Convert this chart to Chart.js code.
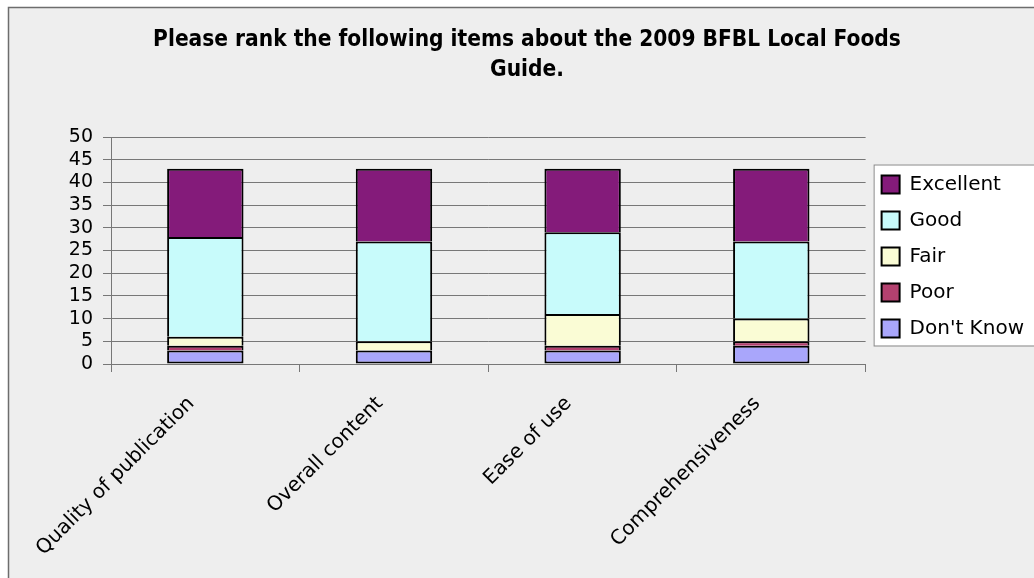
<!DOCTYPE html>
<html>
<head>
<meta charset="utf-8">
<script src="https://cdn.jsdelivr.net/npm/chart.js@4"></script>
<style>
  html, body { margin: 0; padding: 0; background: #fff; }
  #wrap { width: 1034px; height: 578px; }
</style>
</head>
<body>
<div id="wrap"><canvas id="rankChart" width="1034" height="578"></canvas></div>
<script>
var categories = ['Quality of publication', 'Overall content', 'Ease of use', 'Comprehensiveness'];
var dontKnow  = [3, 3, 3, 4];
var poor      = [1, 0, 1, 1];
var fair      = [2, 2, 7, 5];
var good      = [22, 22, 18, 17];
var excellent = [15, 16, 14, 16];
var yTicks    = [0, 5, 10, 15, 20, 25, 30, 35, 40, 45, 50];

// grey panel with frame + white legend box
var framePlugin = {
    id: 'frame',
    beforeDraw: function (chart) {
        var c = chart.ctx;
        c.save();
        c.fillStyle = '#eeeeee';
        c.fillRect(8, 7, chart.width, chart.height);
        c.strokeStyle = '#6d6d6d';
        c.lineWidth = 1.5;
        c.strokeRect(8.5, 7.5, chart.width + 10, chart.height + 10);
        var lg = chart.legend;
        if (lg && lg.legendHitBoxes && lg.legendHitBoxes.length) {
            var top = Infinity, bot = -Infinity, left = Infinity;
            lg.legendHitBoxes.forEach(function (b) {
                top = Math.min(top, b.top);
                bot = Math.max(bot, b.top + b.height);
                left = Math.min(left, b.left);
            });
            c.fillStyle = '#ffffff';
            c.fillRect(left - 8, top - 10, chart.width, bot - top + 17);
            c.strokeStyle = '#888888';
            c.lineWidth = 1;
            c.strokeRect(left - 8 + 0.5, top - 10 + 0.5, chart.width, bot - top + 17);
        }
        c.restore();
    }
};

// lower edge skipped so joints are one border thick
function ds(label, data, color, skip) {
    return {
        label: label,
        data: data,
        backgroundColor: color,
        borderColor: '#000000',
        borderWidth: 2,
        borderSkipped: skip,
        inflateAmount: 0,
        barPercentage: 0.405,
        categoryPercentage: 1
    };
}

Chart.defaults.font.family = '"DejaVu Sans", Verdana, sans-serif';
Chart.defaults.color = '#000';

new Chart(document.getElementById('rankChart').getContext('2d'), {
    type: 'bar',
    data: {
        labels: categories,
        datasets: [
            ds("Don't Know", dontKnow, '#a9a6fb', false),
            ds('Poor', poor, '#b3416f', 'bottom'),
            ds('Fair', fair, '#fafcd5', 'bottom'),
            ds('Good', good, '#c8fbfb', 'bottom'),
            ds('Excellent', excellent, '#841b7a', 'bottom')
        ]
    },
    options: {
        responsive: false,
        animation: false,
        layout: { padding: { left: 20, top: 0, right: 0, bottom: 0 } },
        plugins: {
            title: {
                display: true,
                text: ['Please rank the following items about the 2009 BFBL Local Foods', 'Guide.'],
                font: { family: '"DejaVu Sans Condensed", "DejaVu Sans", sans-serif', size: 22.5, weight: 'bold', lineHeight: '30px' },
                color: '#000',
                padding: { top: 25, bottom: 52 }
            },
            legend: {
                position: 'right',
                fullSize: false,
                reverse: true,
                title: { display: true, text: ' ', font: { size: 10, lineHeight: '12px' }, padding: 0 },
                labels: {
                    boxWidth: 18,
                    boxHeight: 18,
                    padding: 16,
                    color: '#000',
                    font: { size: 20 }
                }
            },
            tooltip: { enabled: false }
        },
        scales: {
            x: {
                stacked: true,
                afterFit: function (s) { s.height = 214; },
                grid: {
                    offset: true,
                    drawOnChartArea: false,
                    color: '#777',
                    tickLength: 8
                },
                border: { color: '#777' },
                ticks: {
                    minRotation: 45,
                    maxRotation: 45,
                    padding: 20,
                    labelOffset: -14,
                    font: { size: 20 },
                    color: '#000'
                }
            },
            y: {
                stacked: true,
                min: 0,
                max: 50,
                afterFit: function (s) { s.width = 91; },
                afterBuildTicks: function (s) {
                    s.ticks = yTicks.map(function (v) { return { value: v }; });
                },
                grid: { color: '#777', tickLength: 8 },
                border: { color: '#777' },
                ticks: {
                    autoSkip: false,
                    padding: 10,
                    font: { size: 19 },
                    color: '#000'
                }
            }
        }
    },
    plugins: [framePlugin]
});
</script>
</body>
</html>
